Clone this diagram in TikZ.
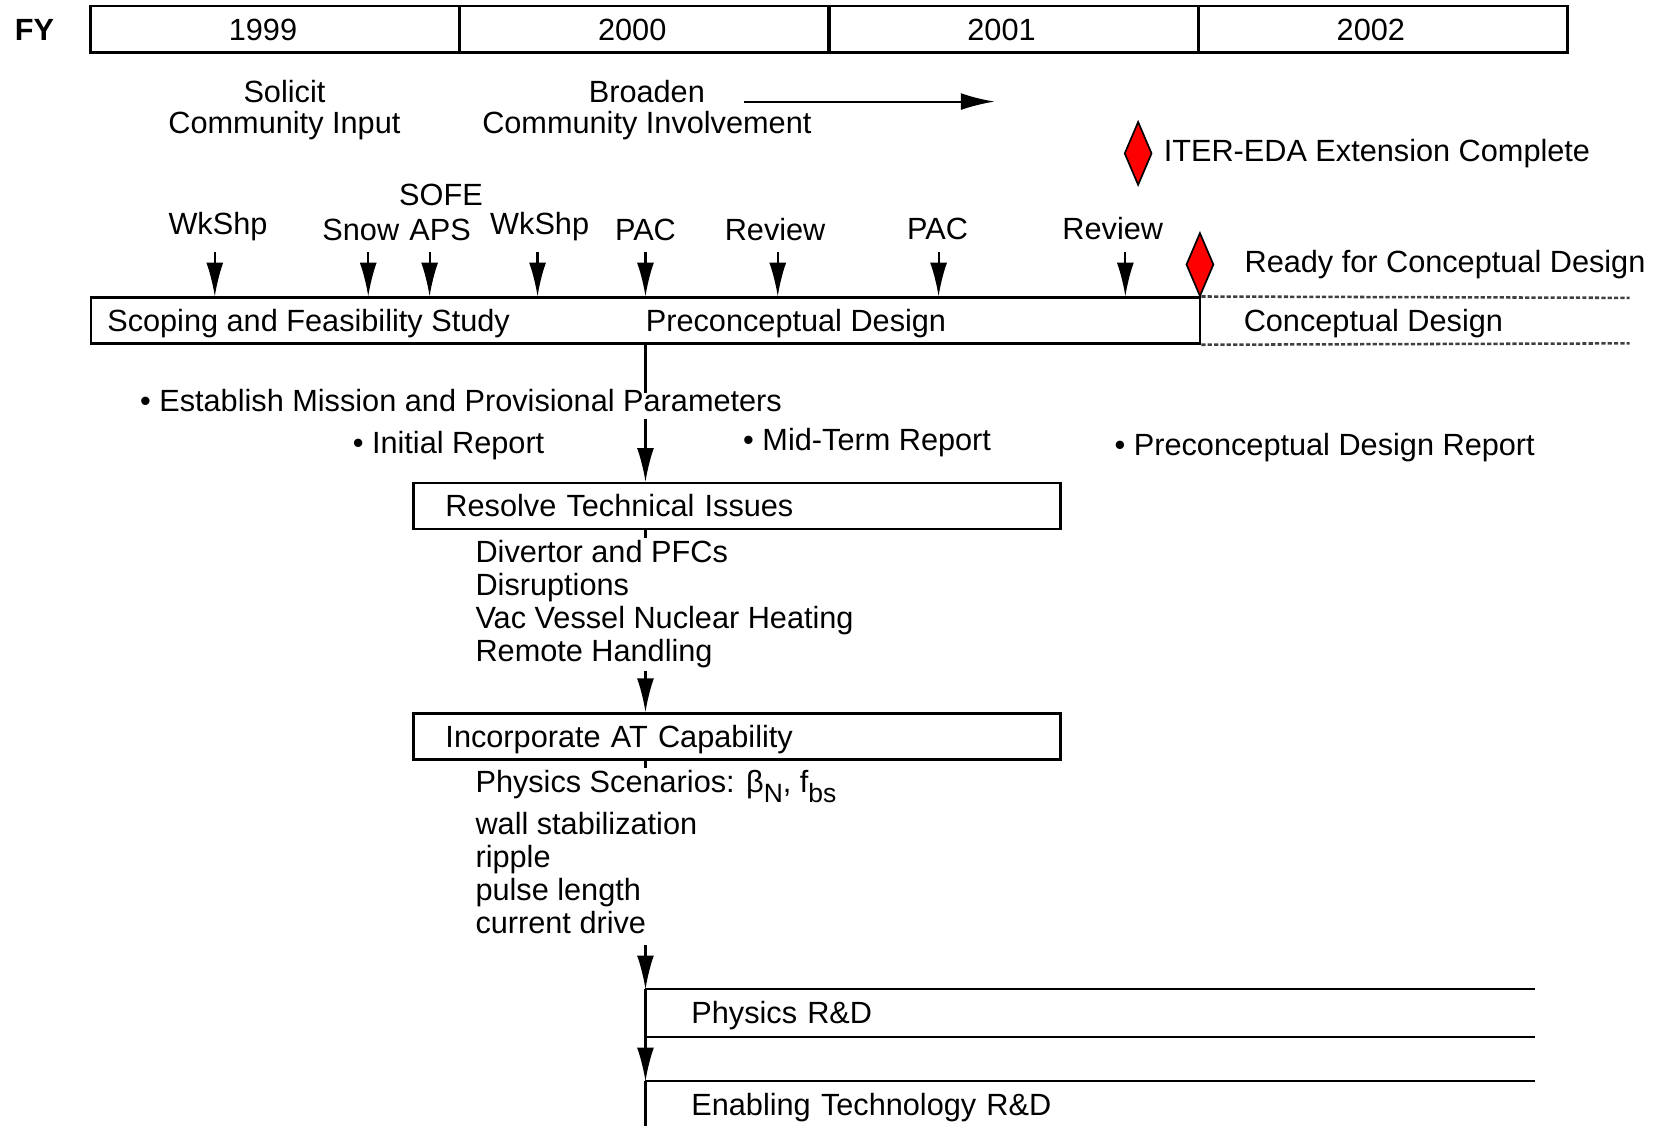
\documentclass[tikz,border=0pt]{standalone}
\usepackage{fontspec}
\setmainfont{Liberation Sans}
\usetikzlibrary{arrows.meta,positioning,shapes.geometric}

\newcommand{\lowsub}[1]{\raisebox{-4.5pt}{\fontsize{12.5}{12.5}\selectfont #1}}

\begin{document}
\begin{tikzpicture}[
    x=0.5pt, y=-0.5pt,
    font=\fontsize{14.5}{15.7}\selectfont,
    inner sep=1pt,
    yearcell/.style={rectangle, draw, line width=1.3pt, minimum width=174.7pt, minimum height=22pt},
    mainbar/.style={rectangle, draw, line width=1.3pt, minimum width=524pt, minimum height=21.5pt},
    stagebox/.style={rectangle, draw, line width=1.2pt, minimum height=21.7pt, inner xsep=15pt, text width=275.5pt, align=left, text height=10pt, text depth=0pt},
    band/.style={anchor=north west, minimum height=22pt, inner xsep=21.5pt, text width=377pt, align=left, text height=10pt, text depth=0pt},
    txt/.style={anchor=base west, text height=0.75em, text depth=0.25em},
    mslabel/.style={anchor=base},
    twoline/.style={anchor=north, align=center, font=\fontsize{14.5}{15}\selectfont},
    itemlist/.style={anchor=north west, align=left},
    milestone/.style={diamond, draw, fill=red, line width=0.8pt, minimum width=13pt, minimum height=30pt, inner sep=0pt},
    arrow/.style={-{Latex[length=16pt,width=8pt]}, line width=1pt},
    rule/.style={line width=1pt},
    openrule/.style={line width=1.2pt, gray!50!black, dash pattern=on 2pt off 1pt}
]
    \useasboundingbox (0,0) rectangle (1565,1064);

    \node[font=\bfseries\fontsize{14.5}{15.7}\selectfont, anchor=base] (fy) at (32.5,38.4) {FY};
    \foreach \yr [count=\i from 0] in {1999,2000,2001,2002} {
        \node[yearcell] (y\yr) at ({260+349*\i},27.75) {};
        \node[mslabel] (t\yr) at ({248.5+349*\i},38.4) {\yr};
    }

    \node[twoline] (solicit) at (268.8,73) {Solicit\\Community Input};
    \node[twoline] (broaden) at (611.3,73) {Broaden\\Community Involvement};
    \coordinate (bstart) at (703,96);
    \coordinate (bend) at (940,96);
    \draw[arrow] (bstart) -- (bend);

    \node[milestone] (iter) at (1075.6,145) {};
    \node[right=4pt of iter] (iterlbl) {ITER-EDA Extension Complete};

    \node[mainbar] (prebar) at (610,303) {};
    \node[txt] (scoping) at (99,313.5) {Scoping and Feasibility Study};
    \node[txt] (precon) at (608,313.5) {Preconceptual Design};
    \coordinate (cdtop) at (1540,281.5);
    \coordinate (cdbot) at (1540,324.5);
    \draw[openrule] (prebar.north east) -- (cdtop);
    \draw[openrule] (prebar.south east) -- (cdbot);
    \node[txt] (concept) at (1173,313.5) {Conceptual Design};

    \node[milestone] (ready) at (1134,250) {};
    \node[right=13pt of ready] (readylbl) {Ready for Conceptual Design};

    \node[mslabel] (sofe) at (416.7,194.4) {SOFE};
    \foreach \ax/\lx/\by/\mlab [count=\i] in {203/206/222/WkShp, 348/341/227/Snow, 406/416/227/APS, 508/510/222/WkShp, 610/610/227/PAC, 735/732.5/227/Review, 887/886/226/PAC, 1063.5/1051.6/226/Review} {
        \node[mslabel] (ms\i) at (\lx,\by) {\mlab};
        \coordinate (tick\i) at (\ax,238);
        \draw[arrow] (tick\i) -- (tick\i |- prebar.north);
    }

    \node[txt] (establish) at (130,389) {• Establish Mission and Provisional Parameters};
    \node[txt] (initrep) at (331,428.5) {• Initial Report};
    \node[txt] (midrep) at (700,426) {• Mid-Term Report};
    \node[txt] (finalrep) at (1051,430) {• Preconceptual Design Report};

    \coordinate (sp) at (610,0);
    \node[stagebox] (resolve) at (696.5,478.3) {Resolve Technical Issues};
    \node[itemlist] (issues) at (447,508) {Divertor and PFCs\\Disruptions\\Vac Vessel Nuclear Heating\\Remote Handling};
    \node[stagebox] (incorp) at (696.5,696) {Incorporate AT Capability};
    \node[itemlist] (scen) at (447,726) {Physics Scenarios: β\lowsub{N}, f\lowsub{bs}\\[3.8pt]wall stabilization\\ripple\\pulse length\\current drive};
    \node[band] (physrd) at (610,935) {Physics R\&D};
    \node[band] (techrd) at (610,1022) {Enabling Technology R\&D};

    \draw[rule] (prebar.south -| sp) -- (establish.north -| sp);
    \draw[arrow] (establish.south -| sp) -- (resolve.north -| sp);
    \draw[rule] (resolve.south -| sp) -- (issues.north -| sp);
    \draw[arrow] (issues.south -| sp) -- (incorp.north -| sp);
    \draw[rule] (incorp.south -| sp) -- (scen.north -| sp);
    \draw[arrow, shorten <=4pt] (scen.south -| sp) -- (physrd.north west);
    \draw[arrow] (physrd.north west) -- (techrd.north west);
    \draw[rule] (techrd.north west) -- (techrd.south west);
    \draw[rule] (physrd.north west) -- (physrd.north east);
    \draw[rule] (physrd.south west) -- (physrd.south east);
    \draw[rule] (techrd.north west) -- (techrd.north east);
\end{tikzpicture}
\end{document}
